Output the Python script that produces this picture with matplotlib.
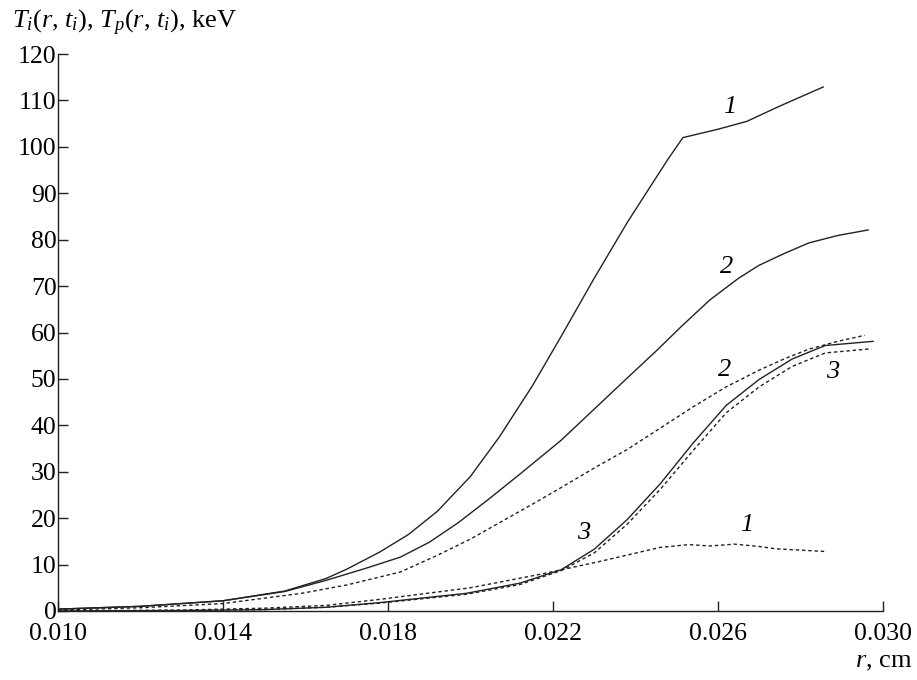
import matplotlib.pyplot as plt

plt.rcParams['font.family'] = ['Liberation Serif', 'DejaVu Serif']
plt.rcParams['mathtext.fontset'] = 'custom'
plt.rcParams['mathtext.rm'] = 'Liberation Serif'
plt.rcParams['mathtext.it'] = 'Liberation Serif:italic'

# Ti (solid) and Tp (dotted), keV
r_s1 = [0.0100, 0.0120, 0.0140, 0.0155, 0.0165, 0.0170, 0.0178, 0.0185, 0.0192,
        0.0200, 0.0207, 0.0215, 0.0222, 0.0230, 0.0238, 0.0244, 0.0248, 0.02515,
        0.0260, 0.0267, 0.0275, 0.02855]
t_s1 = [0.4, 1.0, 2.2, 4.3, 7.0, 9.0, 12.7, 16.5, 21.5,
        29.0, 37.5, 48.5, 59.2, 71.7, 83.7, 92.0, 97.5, 102.0,
        103.8, 105.5, 108.8, 112.9]

r_s2 = [0.0100, 0.0120, 0.0140, 0.0155, 0.0165, 0.0175, 0.0183, 0.0190, 0.0197,
        0.0204, 0.0212, 0.0222, 0.0230, 0.0238, 0.0245, 0.0251, 0.0258, 0.0265,
        0.0270, 0.0276, 0.0282, 0.0289, 0.02964]
t_s2 = [0.4, 1.0, 2.2, 4.2, 6.6, 9.3, 11.6, 14.8, 19.0,
        23.8, 29.5, 36.8, 43.5, 50.2, 56.0, 61.2, 67.0, 71.7,
        74.5, 77.0, 79.3, 80.9, 82.1]

r_s3 = [0.0100, 0.0130, 0.0150, 0.0165, 0.0178, 0.0199, 0.0212, 0.0222, 0.0230,
        0.0238, 0.0246, 0.0254, 0.0262, 0.0270, 0.0278, 0.0286, 0.02976]
t_s3 = [0.0, 0.1, 0.3, 0.8, 1.8, 3.8, 6.0, 8.9, 13.3,
        19.7, 27.4, 36.2, 44.3, 49.9, 54.3, 57.2, 58.1]

r_d1 = [0.0100, 0.0130, 0.0150, 0.0165, 0.0178, 0.0200, 0.0218, 0.0231,
        0.0246, 0.0253, 0.0258, 0.0264, 0.0270, 0.0274, 0.02864]
t_d1 = [0.0, 0.2, 0.6, 1.2, 2.5, 5.0, 8.1, 10.6,
        13.7, 14.3, 14.0, 14.4, 13.9, 13.4, 12.8]

r_d2 = [0.0100, 0.0120, 0.0140, 0.0159, 0.0170, 0.0183, 0.0192, 0.0200, 0.0208,
        0.0215, 0.0222, 0.0230, 0.0238, 0.0246, 0.0254, 0.0262, 0.0270, 0.0276,
        0.0282, 0.0289, 0.02956]
t_d2 = [0.2, 0.7, 1.6, 3.8, 5.6, 8.4, 12.0, 15.5, 19.5,
        23.0, 26.6, 30.8, 34.8, 39.4, 44.0, 48.3, 51.9, 54.3,
        56.4, 58.1, 59.4]

r_d3 = [0.0100, 0.0130, 0.0150, 0.0165, 0.0178, 0.0199, 0.0212, 0.0222, 0.0230,
        0.0238, 0.0246, 0.0254, 0.0262, 0.0270, 0.0278, 0.0286, 0.02972]
t_d3 = [0.0, 0.1, 0.3, 0.8, 1.7, 3.6, 5.7, 8.7, 12.5,
        18.7, 26.2, 34.6, 42.7, 48.3, 52.7, 55.6, 56.5]

# curve numbers: (r, T, text)
lab_r = [0.02628, 0.02622, 0.02617, 0.02879, 0.02275, 0.0267]
lab_t = [108.5, 74.1, 51.9, 51.5, 16.7, 18.5]
lab_txt = ['1', '2', '2', '3', '3', '1']

fig = plt.figure(figsize=(9.17, 6.8), dpi=100)
ax = fig.add_axes([0.0632, 0.1015, 0.8997, 0.819])

lw = 1.0
dash = (0, (2.5, 2.0))
ax.plot(r_s1, t_s1, color='#222222', lw=lw)
ax.plot(r_s2, t_s2, color='#222222', lw=lw)
ax.plot(r_s3, t_s3, color='#222222', lw=lw)
ax.plot(r_d1, t_d1, color='#222222', lw=lw, linestyle=dash)
ax.plot(r_d2, t_d2, color='#222222', lw=lw, linestyle=dash)
ax.plot(r_d3, t_d3, color='#222222', lw=lw, linestyle=dash)

for x, y, s in zip(lab_r, lab_t, lab_txt):
    ax.text(x, y, s, fontsize=19, fontstyle='italic', ha='center', va='center')

ax.set_xlim(0.010, 0.030)
ax.set_ylim(0, 120)
ax.set_xticks([0.010, 0.014, 0.018, 0.022, 0.026, 0.030])
ax.set_xticklabels(['0.010', '0.014', '0.018', '0.022', '0.026', '0.030'])
ax.set_yticks(range(0, 121, 10))
ax.spines['top'].set_visible(False)
ax.spines['right'].set_visible(False)
for s in ['left', 'bottom']:
    ax.spines[s].set_linewidth(1.0)
    ax.spines[s].set_color('#222222')
ax.tick_params(direction='in', length=7, width=1.0, labelsize=18.5, color='#222222')
ax.tick_params(axis='x', pad=9)
ax.tick_params(axis='y', pad=1)

fig.text(0.013, 0.958, r'$T_i$($r$, $t_i$), $T_p$($r$, $t_i$), keV', fontsize=19,
         ha='left', va='baseline')
fig.text(0.995, 0.018, r'$r$, cm', fontsize=19, ha='right', va='baseline')

fig.savefig('out.png', dpi=100)
